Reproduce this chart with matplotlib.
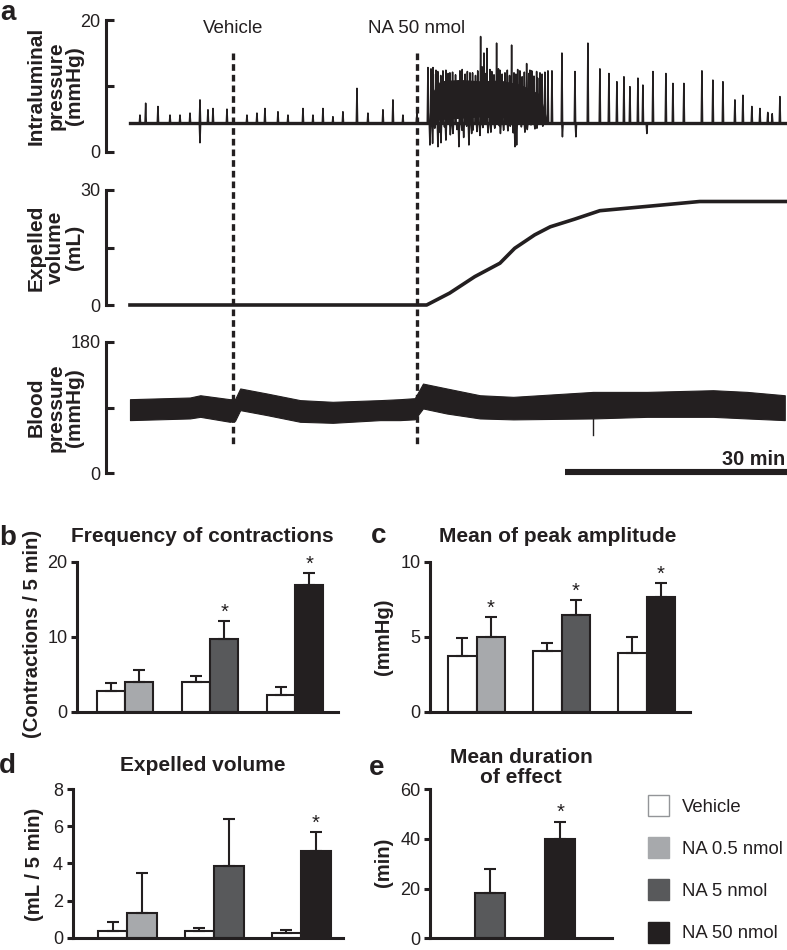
import numpy as np
import matplotlib
matplotlib.use('Agg')
import matplotlib.pyplot as plt
from matplotlib.patches import Rectangle

plt.rcParams['font.family'] = ['Liberation Sans', 'DejaVu Sans']
INK = '#231f20'
plt.rcParams['text.color'] = INK

# ---------------- panel a: recordings (time in min from start) ----------------
inj_times = [13.9, 38.8]
inj_labels = ['Vehicle', 'NA 50 nmol']
t_end = 88.8

ip_base = 4.35
# contraction peaks (up) and troughs (down), mmHg
ip_peak_t = [1.35, 2.12, 3.78, 5.41, 6.76, 8.11, 9.46, 10.54, 11.22, 13.11, 15.81, 17.16,
             18.24, 20.0, 21.35, 23.38, 24.73, 26.08, 27.43, 28.78, 30.68, 32.16, 34.19,
             35.54, 36.89, 38.78,
             40.27, 40.68, 40.95, 41.35, 42.3, 43.24, 44.59, 45.95, 47.39, 47.84, 48.24,
             48.65, 49.55, 50.0, 50.68, 51.58, 52.16, 52.7, 53.61, 54.05, 54.96, 55.41,
             56.08, 56.49,
             41.0, 41.6, 42.0, 42.7, 43.0, 43.6, 44.0, 44.9, 45.3, 45.6, 46.3, 46.7,
             47.0, 47.6, 48.0, 48.9, 49.2, 49.8, 50.3, 51.0, 51.3, 51.9, 52.4, 53.0,
             53.3, 53.9, 54.3, 54.6, 55.1, 55.7,
             57.03, 58.38, 60.14, 61.89, 63.51, 64.73, 65.81, 66.76, 67.57, 68.65, 69.32,
             70.68, 72.43, 73.38, 74.86, 77.3, 78.78, 80.14, 81.76, 82.84, 84.05, 85.14,
             86.2, 86.8, 87.84]
ip_peak_v = [5.6, 7.4, 6.9, 5.6, 5.6, 5.9, 7.9, 6.4, 6.6, 6.5, 5.6, 5.9,
             6.6, 6.1, 5.6, 6.6, 5.6, 6.6, 5.35, 6.1, 9.65, 5.9, 6.4,
             7.9, 5.6, 5.9,
             12.8, 12.6, 12.8, 12.4, 12.3, 12.0, 12.3, 12.0, 17.5, 15.0, 15.7,
             12.5, 16.5, 12.4, 12.0, 16.2, 11.8, 12.3, 13.4, 12.4, 12.2, 12.0,
             12.1, 12.3,
             11.8, 12.2, 11.6, 12.4, 11.9, 12.1, 11.7, 12.5, 11.8, 12.2, 12.0, 11.6,
             12.3, 12.9, 11.9, 12.2, 11.7, 12.6, 11.8, 12.4, 11.6, 12.0, 12.5, 11.4,
             12.1, 11.9, 12.3, 11.5, 11.2, 11.8,
             12.3, 15.0, 12.2, 16.5, 12.6, 11.9, 10.65, 11.4, 9.9, 11.2, 10.15,
             12.2, 11.9, 10.4, 10.4, 12.3, 10.9, 10.65, 7.9, 8.6, 6.9, 6.6,
             6.0, 5.8, 8.4]
ip_trough_t = [9.46, 40.54, 40.9, 41.62, 42.03, 42.7, 43.65, 44.46, 44.86, 45.81, 46.18,
               46.35, 47.3, 48.78, 50.07, 51.08, 52.03, 52.26, 53.38, 54.73,
               41.2, 41.9, 42.5, 43.3, 44.2, 45.1, 45.5, 46.9, 47.7, 48.4, 49.3, 49.9,
               50.5, 51.4, 51.8, 52.9, 53.7, 54.2, 55.0, 55.8,
               58.45, 60.27, 69.86]
ip_trough_v = [1.4, 1.06, 1.3, 0.8, 1.4, 1.8, 2.8, 0.8, 3.3, 1.06, 2.8,
               3.3, 2.5, 3.0, 2.8, 3.2, 0.8, 1.06, 3.0, 3.5,
               3.6, 3.0, 3.8, 2.6, 3.4, 2.2, 3.9, 3.1, 3.7, 2.9, 3.6, 4.0,
               3.3, 3.9, 2.9, 3.8, 3.4, 4.1, 3.6, 3.9,
               2.3, 2.3, 2.8]
# dense burst after NA: envelope of the packed oscillations
burst_t = [40.3, 40.8, 41.9, 44.6, 47.3, 50.0, 52.7, 55.4, 56.5]
burst_hi = [4.4, 9.0, 10.8, 11.0, 10.8, 10.9, 10.3, 8.8, 4.5]
burst_lo = [4.3, 4.2, 4.9, 5.1, 5.3, 5.1, 5.5, 4.9, 4.2]

ev_t = [0, 40.1, 43.2, 46.6, 50.0, 52.0, 54.7, 56.8, 60.1, 63.5, 70.3, 77.0, 88.8]
ev_v = [0, 0, 3.1, 7.4, 10.9, 14.8, 18.3, 20.4, 22.4, 24.6, 25.8, 27.0, 27.0]

bp_t = [0, 8.1, 9.5, 13.5, 14.2, 14.9, 18.5, 23.0, 27.4, 33.8, 36.5, 38.5, 39.6,
        42.8, 47.3, 51.8, 62.6, 69.9, 78.8, 83.4, 88.5]
bp_hi = [101.6, 103.9, 107.0, 101.6, 101.6, 116.3, 109.4, 100.3, 98.0, 100.3, 101.6,
         103.0, 123.0, 116.3, 107.0, 104.8, 111.6, 111.6, 113.9, 111.6, 107.0]
bp_lo = [72.9, 75.2, 77.4, 70.6, 72.0, 86.6, 79.8, 70.6, 69.2, 72.9, 72.9,
         74.0, 88.9, 82.0, 75.2, 73.9, 75.2, 77.4, 77.4, 75.2, 72.9]
bp_dip_t = 62.6
bp_dip_v = 52.4
scale_min = 30

# ---------------- panels b-e: group means and SEM ----------------
doses = ['NA 0.5 nmol', 'NA 5 nmol', 'NA 50 nmol']
na_colors = ['#a7a9ac', '#58595b', '#231f20']

freq_veh = [2.76, 3.96, 2.2]
freq_veh_err = [1.04, 0.8, 1.05]
freq_na = [3.96, 9.65, 16.9]
freq_na_err = [1.6, 2.45, 1.6]
freq_sig = [False, True, True]

amp_veh = [3.71, 4.05, 3.89]
amp_veh_err = [1.18, 0.55, 1.11]
amp_na = [5.0, 6.45, 7.63]
amp_na_err = [1.33, 1.0, 0.97]
amp_sig = [True, True, True]

vol_veh = [0.36, 0.34, 0.27]
vol_veh_err = [0.48, 0.2, 0.12]
vol_na = [1.33, 3.87, 4.68]
vol_na_err = [2.16, 2.51, 1.03]
vol_sig = [False, False, True]

dur_na = [18.1, 39.9]
dur_na_err = [9.7, 7.1]
dur_sig = [False, True]

W, H = 787, 950
fig = plt.figure(figsize=(W / 100, H / 100), dpi=100)


def add_ax(left, top, right, bottom):
    return fig.add_axes([left / W, 1 - bottom / H, (right - left) / W, (bottom - top) / H])


def ftext(x, y, s, **kw):
    fig.text(x / W, 1 - y / H, s, **kw)


def spike_line(times, values, base, half=0.09):
    t, v = [0.0], [base]
    for ti, vi in sorted(zip(times, values)):
        t += [ti - half, ti, ti + half]
        v += [base, vi, base]
    t.append(t_end - 0.2)
    v.append(base)
    return t, v


def trace_axes(top, bottom, ymax, lines):
    ax = add_ax(106, top, 787, bottom)
    ax.set_xlim(-3.24, t_end)
    ax.set_ylim(0, ymax)
    ax.set_yticks([0, ymax / 2, ymax])
    ax.set_yticklabels(['0', '', str(ymax)])
    for s in ['top', 'right', 'bottom']:
        ax.spines[s].set_visible(False)
    ax.spines['left'].set_linewidth(2.2)
    ax.spines['left'].set_color(INK)
    ax.tick_params(axis='y', direction='in', length=6, width=2.2, labelsize=13, pad=4,
                   colors=INK)
    ax.tick_params(axis='x', bottom=False, labelbottom=False)
    ax.patch.set_alpha(0)
    # three-line rotated label, one baseline per line
    ycenter = (top + bottom) / 2
    for line, xb in zip(lines, [41.7, 61.2, 80.0]):
        ftext(xb, ycenter, line, rotation=90, rotation_mode='anchor', ha='center',
              va='baseline', fontsize=15, fontweight='bold')
    return ax


ax_ip = trace_axes(20, 152, 20, ['Intraluminal', 'pressure', '(mmHg)'])
ax_ev = trace_axes(190, 305, 30, ['Expelled', 'volume', '(mL)'])
ax_bp = trace_axes(342, 473.3, 180, ['Blood', 'pressure', '(mmHg)'])

ax_ip.plot([0, t_end - 0.2], [ip_base, ip_base], color=INK, lw=2.4)
ax_ip.fill_between(burst_t, burst_lo, burst_hi, color=INK, lw=0)
st, sv = spike_line(ip_peak_t + ip_trough_t, ip_peak_v + ip_trough_v, ip_base)
ax_ip.plot(st, sv, color=INK, lw=1.1)

ax_ev.plot(ev_t, ev_v, color=INK, lw=2.6, clip_on=False)

ax_bp.fill_between(bp_t, bp_lo, bp_hi, color=INK, lw=0.8, edgecolor=INK)
ax_bp.plot([bp_dip_t, bp_dip_t], [75, bp_dip_v], color=INK, lw=1.0)

# overlay for injection markers and scale bar (y in pixels)
ax_ov = add_ax(106, 0, 787, 950)
ax_ov.set_xlim(-3.24, t_end)
ax_ov.set_ylim(950, 0)
ax_ov.axis('off')
for t, lab in zip(inj_times, inj_labels):
    ax_ov.plot([t, t], [53, 447], color=INK, lw=2.4, ls=(0, (2.0, 1.2)))
    ax_ov.text(t, 33, lab, ha='center', va='baseline', fontsize=13.5)
ax_ov.plot([t_end - scale_min, t_end], [471.5, 471.5], color=INK, lw=4.4,
           solid_capstyle='butt')
ax_ov.text(t_end - 0.3, 465, '%d min' % scale_min, ha='right', va='baseline',
           fontsize=14.3, fontweight='bold')


# ---------------- bar panels ----------------
def bar_axes(left, top, right, bottom, ymax, yticks, xlim):
    ax = add_ax(left, top, right, bottom)
    ax.set_ylim(0, ymax)
    ax.set_xlim(*xlim)
    ax.set_yticks(yticks)
    for s in ['top', 'right']:
        ax.spines[s].set_visible(False)
    for s in ['left', 'bottom']:
        ax.spines[s].set_linewidth(2.2)
        ax.spines[s].set_color(INK)
    ax.tick_params(axis='y', direction='out', length=4, width=2.2, labelsize=13, pad=3,
                   colors=INK)
    ax.tick_params(axis='x', bottom=False, labelbottom=False)
    ax.patch.set_alpha(0)
    return ax


def bars(ax, x, vals, errs, colors, sig, w):
    ax.bar(x, vals, w, color=colors, edgecolor=INK, lw=1.5, zorder=2, clip_on=False)
    ax.errorbar(x, vals, yerr=[np.zeros(len(vals)), errs], fmt='none', ecolor=INK,
                elinewidth=1.5, capsize=4, capthick=1.5, zorder=3, clip_on=False)
    for xi, v, e, s in zip(x, vals, errs, sig):
        if s:
            ax.annotate('*', (xi, v + e), xytext=(0, 2.4), textcoords='offset points',
                        ha='center', va='baseline', fontsize=14.5, annotation_clip=False)


def grouped(ax, veh, veh_err, na, na_err, sig, w):
    x = np.arange(len(veh))
    bars(ax, x - w / 2, veh, veh_err, ['white'] * len(veh), [False] * len(veh), w)
    bars(ax, x + w / 2, na, na_err, na_colors, sig, w)


ax_b = bar_axes(77, 561.7, 338, 711.7, 20, [0, 10, 20], (-0.565, 2.506))
grouped(ax_b, freq_veh, freq_veh_err, freq_na, freq_na_err, freq_sig, 0.335)

ax_c = bar_axes(430, 561.7, 690, 711.7, 10, [0, 5, 10], (-0.549, 2.51))
grouped(ax_c, amp_veh, amp_veh_err, amp_na, amp_na_err, amp_sig, 0.335)

ax_d = bar_axes(72.7, 789.3, 343, 937.6, 8, [0, 2, 4, 6, 8], (-0.629, 2.483))
grouped(ax_d, vol_veh, vol_veh_err, vol_na, vol_na_err, vol_sig, 0.34)

ax_e = bar_axes(430, 789.3, 612, 938.3, 60, [0, 20, 40, 60], (0.143, 2.74))
bars(ax_e, np.array([1, 2]), dur_na, dur_na_err, na_colors[1:], dur_sig, 0.43)

# titles
ftext(202, 541.7, 'Frequency of contractions', ha='center', va='baseline', fontsize=15,
      fontweight='bold')
ftext(558, 541.7, 'Mean of peak amplitude', ha='center', va='baseline', fontsize=15,
      fontweight='bold')
ftext(203, 770.7, 'Expelled volume', ha='center', va='baseline', fontsize=15,
      fontweight='bold')
for line, yb in zip(['Mean duration', 'of effect'], [763.3, 783.3]):
    ftext(521, yb, line, ha='center', va='baseline', fontsize=15, fontweight='bold')

# y labels
ftext(33, 634, '(Contractions / 5 min)', rotation=90, ha='center', va='center',
      fontsize=14.6, fontweight='bold')
ftext(384, 636.7, '(mmHg)', rotation=90, ha='center', va='center', fontsize=14.6,
      fontweight='bold')
ftext(34, 864, '(mL / 5 min)', rotation=90, ha='center', va='center', fontsize=14.6,
      fontweight='bold')
ftext(383, 862, '(min)', rotation=90, ha='center', va='center', fontsize=14.6,
      fontweight='bold')

# panel letters
for lab, x, y in [('a', 0, 20), ('b', -1, 545), ('c', 371, 543), ('d', -1, 773),
                  ('e', 369, 775)]:
    ftext(x, y, lab, ha='left', va='baseline', fontsize=20, fontweight='bold')

# legend
ax_leg = add_ax(630, 780, 787, 950)
ax_leg.set_xlim(630, 787)
ax_leg.set_ylim(950, 780)
ax_leg.axis('off')
for i, (lab, col) in enumerate(zip(['Vehicle'] + doses, ['white'] + na_colors)):
    y0 = 795 + i * 42.2
    ax_leg.add_patch(Rectangle((648.3, y0), 21, 21, facecolor=col,
                               edgecolor='#939598' if col == 'white' else col, lw=1))
    ax_leg.text(681.7, y0 + 16.7, lab, ha='left', va='baseline', fontsize=13.3)

fig.savefig('out.png', dpi=100)
